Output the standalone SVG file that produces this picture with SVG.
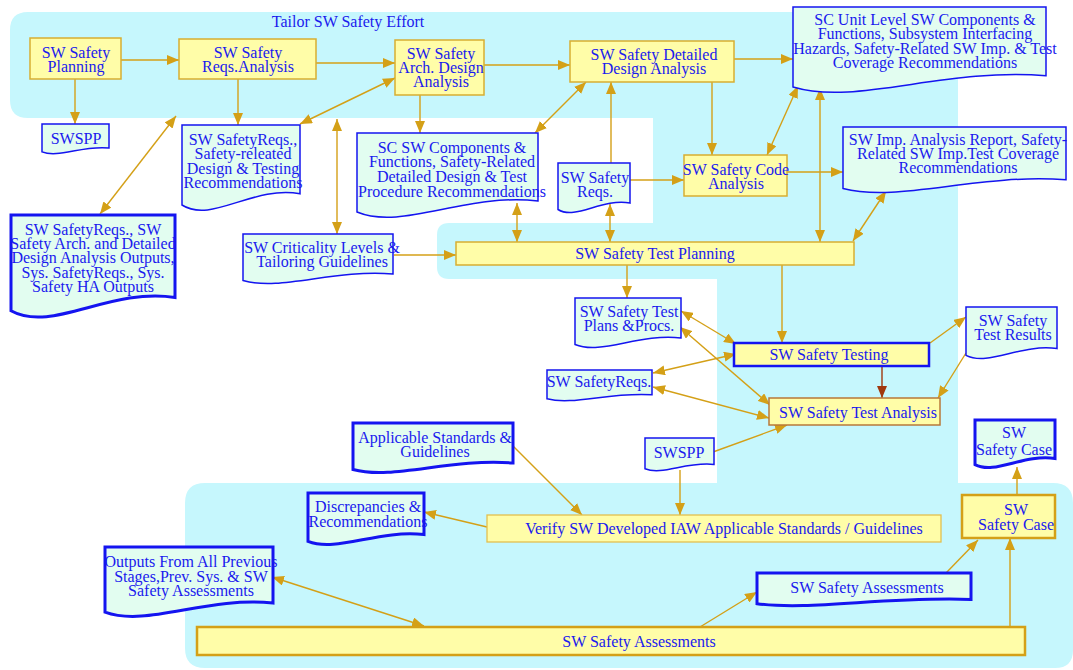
<svg xmlns="http://www.w3.org/2000/svg" width="1073" height="670" viewBox="0 0 1073 670">
  <style>
    .proc { fill: #FFFDA8; stroke: #D8AE32; stroke-width: 1.5; }
    .proc-strong { fill: #FFFDA8; stroke: #D4A017; stroke-width: 2.5; }
    .doc { fill: #E2FDF0; stroke: #1414F0; stroke-width: 1.5; }
    .doc-strong { fill: #E2FDF0; stroke: #1414F0; stroke-width: 3; }
    .lbl { font-family: "Liberation Serif", "Times New Roman", serif; font-size: 16px; fill: #1A1AEE; text-anchor: middle; }
    .conn { fill: none; stroke: #D4A017; stroke-width: 1.4; }
  </style>
  <defs>
    <marker id="ah" markerUnits="userSpaceOnUse" markerWidth="12" markerHeight="10" refX="12" refY="5" orient="auto-start-reverse" viewBox="0 0 12 10">
      <path d="M0,0 L12,5 L0,10 Z" fill="#D4A017"/>
    </marker>
    <marker id="ah-brown" markerUnits="userSpaceOnUse" markerWidth="12" markerHeight="10" refX="12" refY="5" orient="auto" viewBox="0 0 12 10">
      <path d="M0,0 L12,5 L0,10 Z" fill="#A0380E"/>
    </marker>
  </defs>

  <rect width="1073" height="670" fill="#FFFFFF"/>

  <!-- swimlane-style background region -->
  <g id="background">
    <path d="M28,12 H958 V483 H1053 Q1073,483 1073,503 V650 Q1073,668 1055,668 H205 Q185,668 185,648 V503 Q185,483 205,483 H717 V279 H449 Q437,279 437,267 V235 Q437,223 449,223 H653 V118 H28 Q10,118 10,100 V30 Q10,12 28,12 Z" fill="#C6F7FD"/>
    <text class="lbl" x="348" y="27">Tailor SW Safety Effort</text>
  </g>

  <!-- connectors -->
  <g id="connectors" class="conn">
    <path d="M121,60 H179" marker-end="url(#ah)"/>
    <path d="M75,79 V124" marker-end="url(#ah)"/>
    <path d="M316,63 H395" marker-end="url(#ah)"/>
    <path d="M238,79 V125" marker-end="url(#ah)"/>
    <path d="M300,124 L395,78" marker-start="url(#ah)" marker-end="url(#ah)"/>
    <path d="M484,65 H570" marker-end="url(#ah)"/>
    <path d="M420,95 V133" marker-end="url(#ah)"/>
    <path d="M535,133 L586,82" marker-start="url(#ah)" marker-end="url(#ah)"/>
    <path d="M611,163 V82" marker-end="url(#ah)"/>
    <path d="M630,180 H684" marker-end="url(#ah)"/>
    <path d="M712,82 V155" marker-end="url(#ah)"/>
    <path d="M734,59 H793" marker-end="url(#ah)"/>
    <path d="M767,155 L798,86" marker-start="url(#ah)" marker-end="url(#ah)"/>
    <path d="M787,172 H843" marker-end="url(#ah)"/>
    <path d="M820,242 V88" marker-start="url(#ah)" marker-end="url(#ah)"/>
    <path d="M853,241 L886,191" marker-start="url(#ah)" marker-end="url(#ah)"/>
    <path d="M517,203 V242" marker-start="url(#ah)" marker-end="url(#ah)"/>
    <path d="M610,204 V242" marker-start="url(#ah)" marker-end="url(#ah)"/>
    <path d="M394,255 H456" marker-end="url(#ah)"/>
    <path d="M337,119 V234" marker-start="url(#ah)" marker-end="url(#ah)"/>
    <path d="M100,214 L176,116" marker-start="url(#ah)" marker-end="url(#ah)"/>
    <path d="M627,265 V298" marker-end="url(#ah)"/>
    <path d="M782,265 V343" marker-end="url(#ah)"/>
    <path d="M681,311 L736,344" marker-start="url(#ah)" marker-end="url(#ah)"/>
    <path d="M680,327 L770,405" marker-start="url(#ah)" marker-end="url(#ah)"/>
    <path d="M653,373 L736,354" marker-start="url(#ah)" marker-end="url(#ah)"/>
    <path d="M653,387 L769,418" marker-start="url(#ah)" marker-end="url(#ah)"/>
    <path d="M882,366 V398" stroke="#A0380E" marker-end="url(#ah-brown)"/>
    <path d="M930,343 L966,317" marker-end="url(#ah)"/>
    <path d="M966,353 L938,398" marker-end="url(#ah)"/>
    <path d="M713,452 L787,425" marker-end="url(#ah)"/>
    <path d="M680,470 V515" marker-end="url(#ah)"/>
    <path d="M513,446 L582,515" marker-end="url(#ah)"/>
    <path d="M487,527 L424,512" marker-end="url(#ah)"/>
    <path d="M272,577 L424,626" marker-start="url(#ah)" marker-end="url(#ah)"/>
    <path d="M700,627 L757,592" marker-end="url(#ah)"/>
    <path d="M946,573 L978,540" marker-end="url(#ah)"/>
    <path d="M1010,627 V538" marker-end="url(#ah)"/>
    <path d="M1017,495 V467" marker-end="url(#ah)"/>
  </g>

  <!-- process steps -->
  <g id="sw-safety-planning">
    <rect class="proc" x="30" y="38" width="91" height="41"/>
    <text class="lbl" x="76" y="58">SW Safety</text>
    <text class="lbl" x="76" y="72">Planning</text>
  </g>
  <g id="sw-safety-reqs-analysis">
    <rect class="proc" x="179" y="39" width="137" height="40"/>
    <text class="lbl" x="248" y="58">SW Safety</text>
    <text class="lbl" x="248" y="72">Reqs.Analysis</text>
  </g>
  <g id="sw-safety-arch-design-analysis">
    <rect class="proc" x="395" y="40" width="89" height="55"/>
    <text class="lbl" x="441" y="59">SW Safety</text>
    <text class="lbl" x="441" y="73">Arch. Design</text>
    <text class="lbl" x="441" y="87">Analysis</text>
  </g>
  <g id="sw-safety-detailed-design-analysis">
    <rect class="proc" x="570" y="41" width="164" height="41"/>
    <text class="lbl" x="654" y="60">SW Safety Detailed</text>
    <text class="lbl" x="654" y="74">Design Analysis</text>
  </g>
  <g id="sw-safety-code-analysis">
    <rect class="proc" x="684" y="155" width="103" height="41"/>
    <text class="lbl" x="736" y="175">SW Safety Code</text>
    <text class="lbl" x="736" y="189">Analysis</text>
  </g>
  <g id="sw-safety-test-planning">
    <rect class="proc" x="456" y="242" width="398" height="23"/>
    <text class="lbl" x="655" y="259">SW Safety Test Planning</text>
  </g>
  <g id="sw-safety-testing">
    <rect x="734" y="343" width="195" height="23" fill="#FFFDA8" stroke="#1414F0" stroke-width="2.5"/>
    <text class="lbl" x="829" y="360">SW Safety Testing</text>
  </g>
  <g id="sw-safety-test-analysis">
    <rect x="769" y="398" width="171" height="27" fill="#FFFDA8" stroke="#B8783A" stroke-width="1.5"/>
    <text class="lbl" x="858" y="418">SW Safety Test Analysis</text>
  </g>
  <g id="verify-sw-developed">
    <rect x="487" y="515" width="454" height="27" fill="#FFFDA8" stroke="#E2C050" stroke-width="1.3"/>
    <text class="lbl" x="724" y="534">Verify SW Developed IAW Applicable Standards / Guidelines</text>
  </g>
  <g id="sw-safety-case-step">
    <rect class="proc-strong" x="962" y="495" width="93" height="43"/>
    <text class="lbl" x="1016" y="515">SW</text>
    <text class="lbl" x="1016" y="530">Safety Case</text>
  </g>
  <g id="sw-safety-assessments-step">
    <rect class="proc-strong" x="197" y="627" width="828" height="28"/>
    <text class="lbl" x="639" y="647">SW Safety Assessments</text>
  </g>

  <!-- documents -->
  <g id="doc-swspp-top">
    <path class="doc" d="M42,124 H109 V148 C82.2,145 58.8,158.5 42,151.9 Z"/>
    <text class="lbl" x="76" y="144">SWSPP</text>
  </g>
  <g id="doc-sw-safety-reqs-recs">
    <path class="doc" d="M182,125 H300 V193.8 C252.8,185.2 211.5,223.9 182,205 Z"/>
    <text class="lbl" x="243" y="145">SW SafetyReqs.,</text>
    <text class="lbl" x="243" y="159">Safety-releated</text>
    <text class="lbl" x="243" y="174">Design &amp; Testing</text>
    <text class="lbl" x="243" y="188">Recommendations</text>
  </g>
  <g id="doc-prior-outputs">
    <path class="doc-strong" d="M11,215 H175 V297.4 C109.4,287.1 52,333.5 11,310.8 Z"/>
    <text class="lbl" x="93" y="235">SW SafetyReqs., SW</text>
    <text class="lbl" x="93" y="249">Safety Arch. and Detailed</text>
    <text class="lbl" x="93" y="263">Design Analysis Outputs,</text>
    <text class="lbl" x="93" y="278">Sys. SafetyReqs., Sys.</text>
    <text class="lbl" x="93" y="292">Safety HA Outputs</text>
  </g>
  <g id="doc-sc-sw-components">
    <path class="doc" d="M357,133 H538 V201 C465.6,192.5 402.3,230.8 357,212 Z"/>
    <text class="lbl" x="452" y="153">SC SW Components &amp;</text>
    <text class="lbl" x="452" y="167">Functions, Safety-Related</text>
    <text class="lbl" x="452" y="182">Detailed Design &amp; Test</text>
    <text class="lbl" x="452" y="197">Procedure Recommendations</text>
  </g>
  <g id="doc-sw-safety-reqs">
    <path class="doc" d="M558,163 H630 V203 C601.2,198 576,220.5 558,209.5 Z"/>
    <text class="lbl" x="595" y="183">SW Safety</text>
    <text class="lbl" x="595" y="197">Reqs.</text>
  </g>
  <g id="doc-sc-unit-level">
    <path class="doc" d="M793,7 H1046 V75.8 C944.8,67.2 856.3,105.9 793,87 Z"/>
    <text class="lbl" x="925" y="25">SC Unit Level SW Components &amp;</text>
    <text class="lbl" x="925" y="39">Functions, Subsystem Interfacing</text>
    <text class="lbl" x="925" y="54">Hazards, Safety-Related SW Imp. &amp; Test</text>
    <text class="lbl" x="925" y="68">Coverage Recommendations</text>
  </g>
  <g id="doc-sw-imp-analysis-report">
    <path class="doc" d="M843,127 H1066 V179.8 C976.8,173.2 898.8,202.9 843,188.4 Z"/>
    <text class="lbl" x="958" y="145">SW Imp. Analysis Report, Safety-</text>
    <text class="lbl" x="958" y="159">Related SW Imp.Test Coverage</text>
    <text class="lbl" x="958" y="173">Recommendations</text>
  </g>
  <g id="doc-criticality-levels">
    <path class="doc" d="M243,234 H393 V274 C333,269 280.5,291.5 243,280.5 Z"/>
    <text class="lbl" x="322" y="253">SW Criticality Levels &amp;</text>
    <text class="lbl" x="322" y="267">Tailoring Guidelines</text>
  </g>
  <g id="doc-test-plans-procs">
    <path class="doc" d="M575,298 H681 V338 C638.6,333 601.5,355.5 575,344.5 Z"/>
    <text class="lbl" x="629" y="317">SW Safety Test</text>
    <text class="lbl" x="629" y="331">Plans &amp;Procs.</text>
  </g>
  <g id="doc-sw-safetyreqs-test">
    <path class="doc" d="M547,370 H652 V394.8 C610,391.7 573.3,405.7 547,398.8 Z"/>
    <text class="lbl" x="599" y="387">SW SafetyReqs.</text>
  </g>
  <g id="doc-test-results">
    <path class="doc" d="M966,307 H1057 V348.6 C1020.6,343.4 988.8,366.8 966,355.4 Z"/>
    <text class="lbl" x="1013" y="326">SW Safety</text>
    <text class="lbl" x="1013" y="340">Test Results</text>
  </g>
  <g id="doc-swspp-verify">
    <path class="doc" d="M645,438 H714 V464.4 C686.4,461.1 662.3,476 645,468.7 Z"/>
    <text class="lbl" x="679" y="458">SWSPP</text>
  </g>
  <g id="doc-sw-safety-case">
    <path class="doc-strong" d="M975,420 H1055 V458.4 C1023,453.6 995,475.2 975,464.6 Z"/>
    <text class="lbl" x="1014" y="438">SW</text>
    <text class="lbl" x="1014" y="455">Safety Case</text>
  </g>
  <g id="doc-applicable-standards">
    <path class="doc-strong" d="M353,423 H513 V463 C449,458 393,480.5 353,469.5 Z"/>
    <text class="lbl" x="435" y="443">Applicable Standards &amp;</text>
    <text class="lbl" x="435" y="457">Guidelines</text>
  </g>
  <g id="doc-discrepancies">
    <path class="doc-strong" d="M308,493 H424 V534.6 C377.6,529.4 337,552.8 308,541.4 Z"/>
    <text class="lbl" x="368" y="512">Discrepancies &amp;</text>
    <text class="lbl" x="368" y="527">Recommendations</text>
  </g>
  <g id="doc-previous-outputs">
    <path class="doc-strong" d="M105,547 H273 V603 C205.8,596 147,627.5 105,612.1 Z"/>
    <text class="lbl" x="191" y="567">Outputs From All Previous</text>
    <text class="lbl" x="191" y="582">Stages,Prev. Sys. &amp; SW</text>
    <text class="lbl" x="191" y="596">Safety Assessments</text>
  </g>
  <g id="doc-sw-safety-assessments">
    <path class="doc-strong" d="M757,573 H971 V599.4 C885.4,596.1 810.5,611 757,603.7 Z"/>
    <text class="lbl" x="867" y="593">SW Safety Assessments</text>
  </g>
</svg>
